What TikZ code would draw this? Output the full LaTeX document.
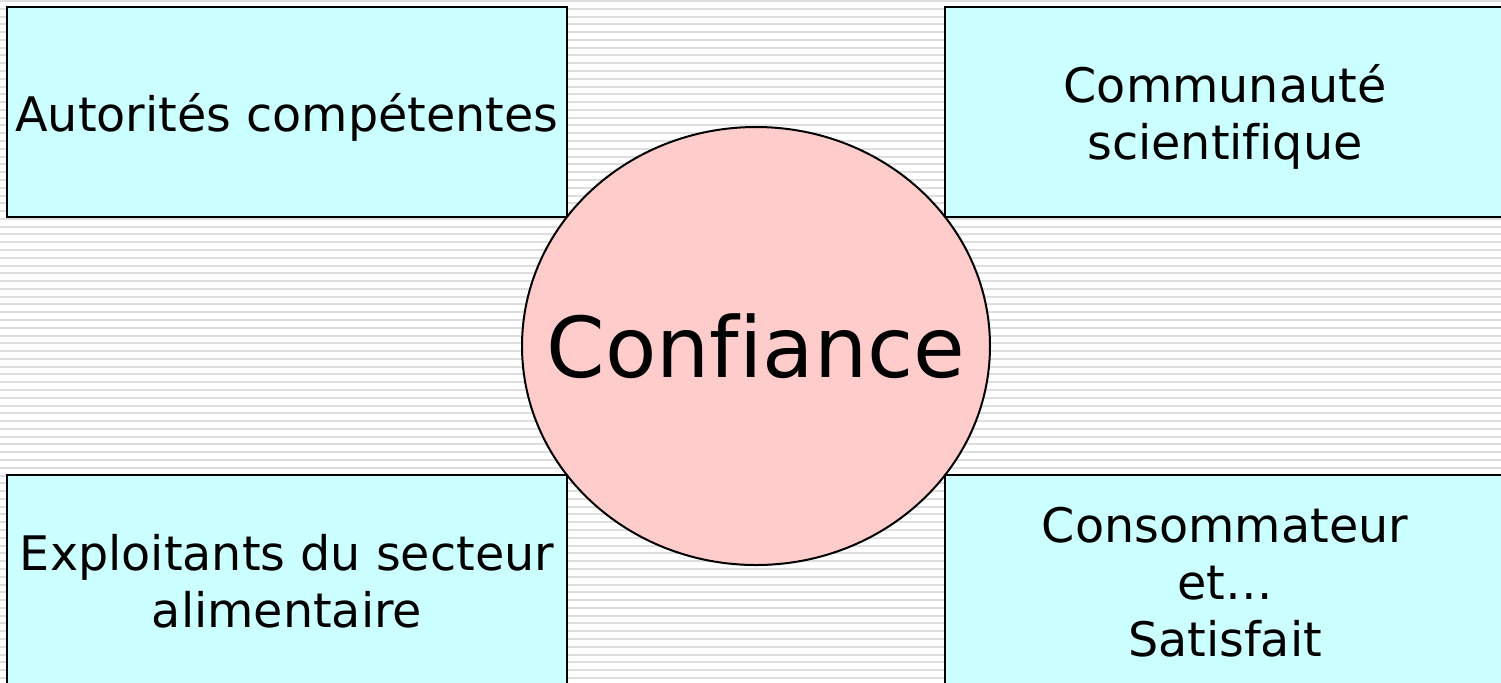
\documentclass[tikz,border=0pt]{standalone}
\usepackage{fontspec}
\setmainfont{DejaVu Sans}[Ligatures=NoCommon]
\usetikzlibrary{shapes.geometric}

\definecolor{streifengrau}{RGB}{222,222,222}
\definecolor{kastenblau}{RGB}{204,255,255}
\definecolor{kreisrosa}{RGB}{255,204,204}

% Text im Kasten etwas tiefer setzen
\newcommand{\kastentext}[1]{\raisebox{-4pt}[\height][\depth]{\begin{tabular}{@{}c@{}}#1\end{tabular}}}

\tikzset{
	streifen/.style={draw=streifengrau, line width=1pt},
	kasten/.style={draw, fill=kastenblau, line width=1.2pt, inner sep=0pt,
		minimum width=280pt, minimum height=105pt,
		font=\fontsize{23.8}{28.5}\selectfont},
	kreis/.style={ellipse, draw, fill=kreisrosa, line width=1pt, inner sep=0pt,
		minimum width=234pt, minimum height=219pt,
		font=\fontsize{42}{50}\selectfont}
}

\begin{document}
\begin{tikzpicture}[x=0.5pt, y=-0.5pt]
			% Rahmen festlegen
			\useasboundingbox (0,0) rectangle (1501,682);
			\clip (0,0) rectangle (1501,682);
			\fill[white] (0,0) rectangle (1501,682);
			
			% Hintergrundstreifen zeichnen
			\foreach \y in {1,8.78,...,682}
				\draw[streifen] (0,\y) -- (1501,\y);
			
			% Kaesten zeichnen
			\node[kasten] (autorites) at (287,112) {\kastentext{Autorités compétentes}};
			\node[kasten] (communaute) at (1225,112) {\kastentext{Communauté\\scientifique}};
			\node[kasten] (exploitants) at (287,580) {\kastentext{Exploitants du secteur\\alimentaire}};
			\node[kasten] (consommateur) at (1225,580) {\kastentext{Consommateur\\et…\\Satisfait}};
			
			% Kreis in der Mitte
			\node[kreis] (confiance) at (756,346) {\makebox[0pt]{Confiance}};
	\end{tikzpicture}
\end{document}
